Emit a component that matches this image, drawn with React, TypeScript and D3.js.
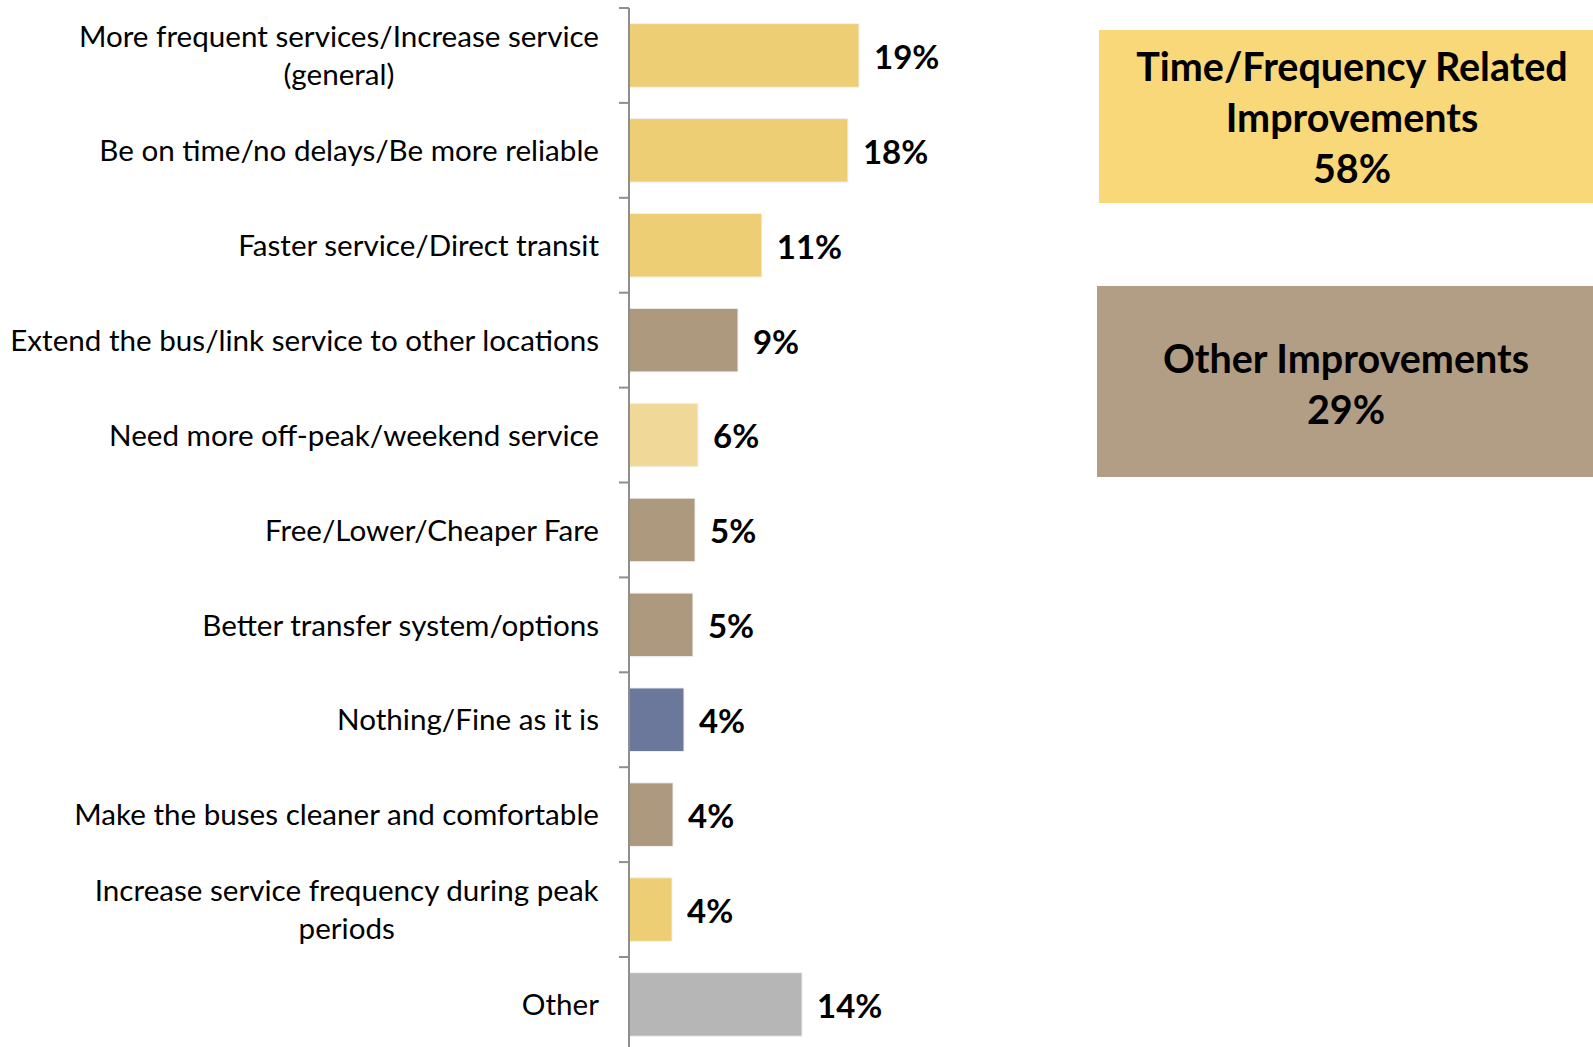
import React from "react";
import * as d3 from "d3";

const categories: string[][] = [
  ["More frequent services/Increase service", "(general)"],
  ["Be on time/no delays/Be more reliable"],
  ["Faster service/Direct transit"],
  ["Extend the bus/link service to other locations"],
  ["Need more off-peak/weekend service"],
  ["Free/Lower/Cheaper Fare"],
  ["Better transfer system/options"],
  ["Nothing/Fine as it is"],
  ["Make the buses cleaner and comfortable"],
  ["Increase service frequency during peak", "periods"],
  ["Other"],
];
const values: number[] = [18.7, 17.8, 10.8, 8.86, 5.61, 5.37, 5.2, 4.47, 3.58, 3.5, 14.07];
const valueLabels: string[] = ["19%", "18%", "11%", "9%", "6%", "5%", "5%", "4%", "4%", "4%", "14%"];
const groups: string[] = ["time", "time", "time", "other", "timeLight", "other", "other", "nothing", "other", "time", "misc"];
const groupColors: Record<string, string> = {
  time: "#EDCE74",
  timeLight: "#F0D898",
  other: "#AC997E",
  nothing: "#6B789B",
  misc: "#B6B6B6",
};
const summaryBoxes = [
  { lines: ["Time/Frequency Related", "Improvements", "58%"], color: "#F8D878" },
  { lines: ["Other Improvements", "29%"], color: "#B29E84" },
];

const W = 1593;
const H = 1047;
const axisX = 629;
const top = 8;
const step = 94.9;
const FONT = "Lato, 'Open Sans', sans-serif";
const CAT_SIZE = 29.6;

let measureCtx: CanvasRenderingContext2D | null = null;
function measure(text: string, size: number, weight = 400): number {
  if (!measureCtx) {
    const c = document.createElement("canvas");
    measureCtx = c.getContext("2d");
  }
  if (!measureCtx) return text.length * size * 0.5;
  measureCtx.font = `${weight} ${size}px Lato, 'Open Sans', sans-serif`;
  return measureCtx.measureText(text).width;
}

export default function App() {
  const ids = categories.map((_, i) => String(i));
  const y = d3
    .scaleBand<string>()
    .domain(ids)
    .range([top, top + step * categories.length])
    .paddingInner(0.33)
    .paddingOuter(0.165);
  const x = d3.scaleLinear().domain([0, 25]).range([axisX, axisX + 307.5]);
  const boundaries = d3.range(categories.length + 1).map((i) => top + i * step);
  const labelRight = 599;

  return (
    <svg
      width={W}
      height={H}
      style={{ position: "absolute", left: 0, top: 0, background: "#fff" }}
      fontFamily={FONT}
    >
      {ids.map((id, i) => {
        const yc = (y(id) as number) + y.bandwidth() / 2;
        const lines = categories[i];
        const lh = 38;
        const blockW = Math.max(...lines.map((l) => measure(l, CAT_SIZE)));
        const cx = labelRight - blockW / 2;
        return (
          <g key={id}>
            <rect
              x={x(0)}
              y={y(id)}
              width={x(values[i]) - x(0)}
              height={y.bandwidth()}
              fill={groupColors[groups[i]]}
              stroke="#f2f2f2"
              strokeWidth={1}
            />
            <text
              x={x(values[i]) + 15}
              y={yc + 1.5}
              dy="0.36em"
              fontSize={33}
              fontWeight={700}
              fill="#000"
            >
              {valueLabels[i]}
            </text>
            {lines.map((ln, j) => (
              <text
                key={j}
                x={lines.length > 1 ? cx : labelRight}
                y={yc + (j - (lines.length - 1) / 2) * lh}
                dy="0.36em"
                textAnchor={lines.length > 1 ? "middle" : "end"}
                fontSize={CAT_SIZE}
                fill="#000"
              >
                {ln}
              </text>
            ))}
          </g>
        );
      })}
      <line x1={axisX} x2={axisX} y1={top} y2={boundaries[boundaries.length - 1]} stroke="#8E8E8E" strokeWidth={2} />
      {boundaries.map((b, i) => (
        <line key={i} x1={axisX - 10} x2={axisX} y1={b} y2={b} stroke="#8E8E8E" strokeWidth={2} />
      ))}
      <rect x={1099} y={30} width={510} height={173} fill={summaryBoxes[0].color} />
      {summaryBoxes[0].lines.map((ln, j) => (
        <text key={j} x={1352} y={118 + (j - 1) * 51} dy="0.36em" textAnchor="middle" fontSize={39.5} fontWeight={700}>
          {ln}
        </text>
      ))}
      <rect x={1097} y={286} width={510} height={191} fill={summaryBoxes[1].color} />
      {summaryBoxes[1].lines.map((ln, j) => (
        <text key={j} x={1346} y={384 + (j - 0.5) * 51} dy="0.36em" textAnchor="middle" fontSize={39.5} fontWeight={700}>
          {ln}
        </text>
      ))}
    </svg>
  );
}
